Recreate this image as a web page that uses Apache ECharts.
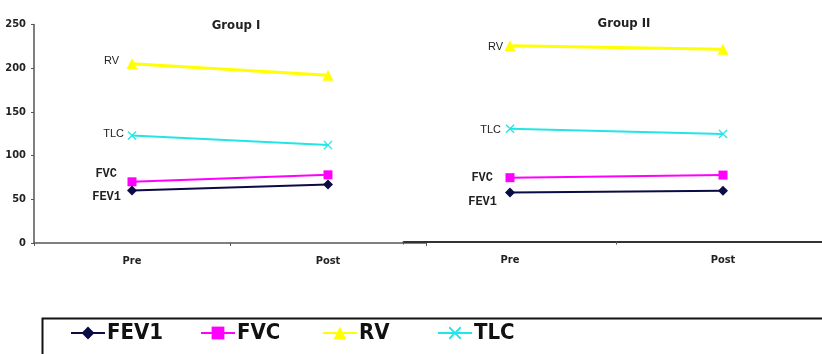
<!DOCTYPE html>
<html>
<head>
<meta charset="utf-8">
<script src="https://cdn.jsdelivr.net/npm/echarts@6/dist/echarts.min.js"></script>
<style>
html,body{margin:0;padding:0;background:#fff;overflow:hidden;}
#c{width:840px;height:354px;}
</style>
</head>
<body>
<div id="c"></div>
<script>
var categories = ['Pre', 'Post'];
var groupTitles = ['Group I', 'Group II'];
var seriesNames = ['FEV1', 'FVC', 'RV', 'TLC'];
var yTicks = [0, 50, 100, 150, 200, 250];
// Group I values
var g1FEV1 = [60, 67];
var g1FVC = [70, 78];
var g1RV = [205, 192];
var g1TLC = [123, 112];
// Group II values
var g2FEV1 = [56, 58];
var g2FVC = [73, 76];
var g2RV = [224, 220];
var g2TLC = [129, 123];

var groupData = [
  {FEV1: g1FEV1, FVC: g1FVC, RV: g1RV, TLC: g1TLC},
  {FEV1: g2FEV1, FVC: g2FVC, RV: g2RV, TLC: g2TLC}
];

var narrow = '"DejaVu Sans Condensed", "Liberation Sans Narrow", "Arial Narrow", sans-serif';
var xSym = 'path://M0,1 L1,0 L5,4 L9,0 L10,1 L6,5 L10,9 L9,10 L5,6 L1,10 L0,9 L4,5 Z';
var styles = {
  FEV1: {color: '#0b0b45', symbol: 'diamond', size: 10, width: 2,
         font: '"Liberation Mono", "Courier New", monospace', weight: 'bold', fs: 12},
  FVC:  {color: '#ff00ff', symbol: 'rect', size: 9, width: 2,
         font: '"Liberation Mono", "Courier New", monospace', weight: 'bold', fs: 12},
  RV:   {color: '#ffff00', symbol: 'triangle', size: 11, width: 3,
         font: '"Liberation Sans", Arial, sans-serif', weight: 'normal', fs: 11},
  TLC:  {color: '#22e6e6', symbol: xSym, size: 9, width: 2,
         font: '"Liberation Sans", Arial, sans-serif', weight: 'normal', fs: 11}
};
// label offsets [dx, dy] per group per series
var labelOffsets = [
  {FEV1: [-6, 6.5], FVC: [-10.5, -8], RV: [-7.5, -3], TLC: [-3.5, -2]},
  {FEV1: [-8, 9], FVC: [-12.5, 0], RV: [-1.5, 1], TLC: [-4.5, 1]}
];

var grids = [
  {left: 34, top: 24.5, width: 392, height: 218.5},
  {left: 403.5, top: 23, width: 426, height: 218.5}
];

var xAxes = [], yAxes = [], series = [], titles = [];
grids.forEach(function (g, i) {
  xAxes.push({
    type: 'category', gridIndex: i, data: categories, boundaryGap: true,
    axisLine: {lineStyle: {color: i === 0 ? '#555' : '#333', width: i === 0 ? 1.5 : 2}},
    axisTick: {show: true, alignWithLabel: false, length: 3, lineStyle: {color: '#555'}},
    axisLabel: {color: '#222', fontFamily: narrow, fontWeight: 'bold', fontSize: 11, margin: 13}
  });
  yAxes.push({
    type: 'value', gridIndex: i, min: 0, max: 250, interval: 50,
    show: i === 0,
    splitLine: {show: false},
    axisLine: {show: true, lineStyle: {color: '#555', width: 1.5}},
    axisTick: {show: true, length: 3, inside: false, lineStyle: {color: '#555'}},
    axisLabel: {color: '#222', fontFamily: narrow, fontWeight: 'bold', fontSize: 11, margin: 8}
  });
  titles.push({
    text: groupTitles[i],
    left: i === 0 ? 231 : 619, top: i === 0 ? 14 : 12, textAlign: 'center',
    textStyle: {fontFamily: narrow, fontWeight: 'bold', fontSize: 13, color: '#222'}
  });
  seriesNames.forEach(function (n) {
    var s = styles[n];
    var vals = groupData[i][n];
    series.push({
      name: n, type: 'line', xAxisIndex: i, yAxisIndex: i,
      symbol: s.symbol, symbolSize: s.size,
      itemStyle: {color: s.color},
      lineStyle: {color: s.color, width: s.width},
      z: n === 'FEV1' ? 5 : 3,
      data: vals.map(function (v, k) {
        return k === 0 ? {value: v, label: {
          show: true, position: 'left', distance: 0, formatter: '{a}',
          offset: labelOffsets[i][n],
          fontFamily: s.font, fontWeight: s.weight, fontSize: s.fs, color: '#222'
        }} : v;
      })
    });
  });
});

var legendLefts = [70, 200, 322, 437];
var legends = seriesNames.map(function (n, k) {
  return {
    data: [n], left: legendLefts[k], top: 322, padding: 0,
    itemWidth: 34, itemHeight: 16, itemGap: 2,
    textStyle: {fontFamily: narrow, fontWeight: 'bold', fontSize: 22, color: '#111', padding: [0, 0, 0, -3]},
    selectedMode: false
  };
});

var chart = echarts.init(document.getElementById('c'));
chart.setOption({
  animation: false,
  backgroundColor: '#fff',
  title: titles,
  grid: grids,
  xAxis: xAxes,
  yAxis: yAxes,
  series: series,
  legend: legends,
  graphic: [{
    type: 'rect', left: 40, top: 316,
    shape: {x: 0, y: 0, width: 800, height: 60},
    style: {fill: 'none', stroke: '#111', lineWidth: 2}
  }]
});
</script>
</body>
</html>
